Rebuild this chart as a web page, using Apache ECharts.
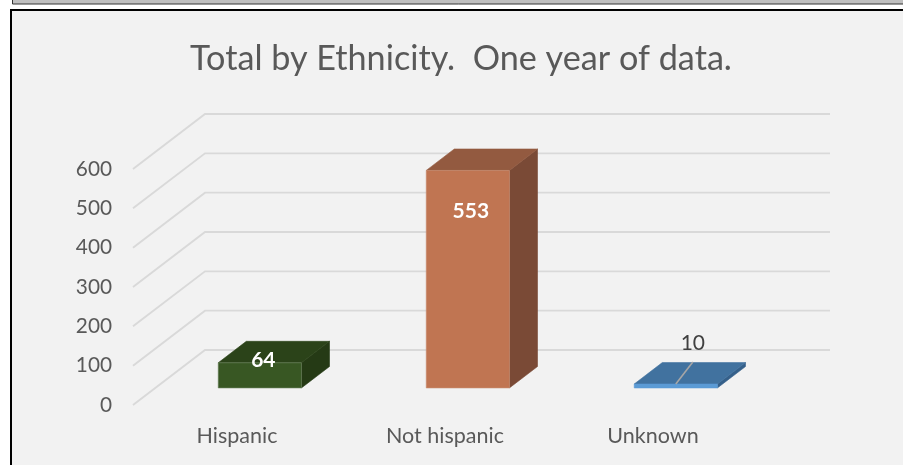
<!DOCTYPE html>
<html><head><meta charset="utf-8">
<style>html,body{margin:0;padding:0;background:#fff}#c{width:903px;height:465px}</style>
<script src="https://cdn.jsdelivr.net/npm/echarts@6/dist/echarts.min.js"></script></head>
<body><div id="c"></div>
<script>
const categories = ['Hispanic', 'Not hispanic', 'Unknown'];
const totals = [64, 553, 10];
const axisTicks = [0, 100, 200, 300, 400, 500, 600];
const titleText = 'Total by Ethnicity.  One year of data.';

const faces = [
  {front:'#385723', top:'#2b4319', side:'#253a15', edge:'#6d8560'},
  {front:'#c07552', top:'#935a40', side:'#7a4a36', edge:'#c98e72'},
  {front:'#5b9bd5', top:'#41729f', side:'#35608a', edge:'#5b9bd5'}
];
const labelStyle = [
  {dx:3.5, dy:-4, fill:'#fff', weight:'bold'},
  {dx:3, dy:40, fill:'#fff', weight:'bold'},
  {dx:17, dy:-42, fill:'#404040', weight:'normal'}
];
const FONT = 'Lato, "Open Sans", sans-serif';
const DEPTH = {x:72, y:-55};
const BAR_NEAR = 0.31, BAR_FAR = 0.70, BAR_RATIO = 0.40;
const GRID_LEFT = 133, GRID_WIDTH = 624;

function poly(points, fill, stroke){
  return {type:'polygon', shape:{points}, style:{fill, stroke:stroke||fill, lineWidth:0.6}};
}
function renderGridline(params, api){
  const v = api.value(0);
  const cs = params.coordSys;
  const y = api.coord([0, v])[1];
  const x0 = cs.x, xb = cs.x + DEPTH.x, yb = y + DEPTH.y;
  return {type:'polyline', shape:{points:[[x0,y],[xb,yb],[cs.x+cs.width+DEPTH.x+1,yb]]},
    style:{stroke:'#d9d9d9', lineWidth:1.9, fill:null}};
}
function renderBar(params, api){
  const i = params.dataIndex;
  const c = faces[i];
  const base = api.coord([i, 0]), top = api.coord([i, api.value(1)]);
  const w = api.size([1, 0])[0] * BAR_RATIO;
  const ox = DEPTH.x * BAR_NEAR, oy = DEPTH.y * BAR_NEAR;
  const dx = DEPTH.x * (BAR_FAR - BAR_NEAR), dy = DEPTH.y * (BAR_FAR - BAR_NEAR);
  const l = base[0] + ox - w / 2 + 0.5, r = l + w, b = base[1] + oy, t = top[1] + oy;
  const children = [
    poly([[r,b],[r+dx,b+dy],[r+dx,t+dy],[r,t]], c.side),
    poly([[l,t],[r,t],[r+dx,t+dy],[l+dx,t+dy]], c.top),
    poly([[l,b],[r,b],[r,t],[l,t]], c.front, c.edge)
  ];
  const s = labelStyle[i];
  const cx = (l + r) / 2 + s.dx, cy = t + s.dy;
  if (s.weight === 'normal') {
    children.push({type:'line', shape:{x1:cx, y1:cy+20, x2:cx-17, y2:cy+42},
      style:{stroke:'#a6a6a6', lineWidth:1.6}});
  }
  children.push({type:'text', style:{text:String(api.value(1)), x:cx, y:cy+1, align:'center', verticalAlign:'middle',
    fill:s.fill, fontFamily:FONT, fontSize:21, fontWeight:s.weight}});
  return {type:'group', children};
}

const chart = echarts.init(document.getElementById('c'), null, {renderer:'canvas'});
chart.setOption({
  animation:false,
  backgroundColor:'#fff',
  title:{text:titleText, left:456, top:37, textAlign:'center',
    textStyle:{color:'#595959', fontFamily:FONT, fontSize:34.2, fontWeight:'normal'}},
  grid:{left:GRID_LEFT, width:GRID_WIDTH, top:169, height:236, containLabel:false},
  graphic:[
    {type:'rect', z:-1, shape:{x:12.5,y:-3,width:900,height:7}, style:{fill:'#bfbfbf', stroke:'#333', lineWidth:1}},
    {type:'rect', z:-1, shape:{x:11,y:10,width:900,height:470}, style:{fill:'#f2f2f2', stroke:'#000', lineWidth:2}}
  ],
  xAxis:{type:'category', data:categories, axisLine:{show:false}, axisTick:{show:false}, splitLine:{show:false},
    axisLabel:{margin:20, color:'#595959', fontFamily:FONT, fontSize:21.5}},
  yAxis:{type:'value', min:0, max:600, interval:100, axisLine:{show:false}, axisTick:{show:false}, splitLine:{show:false},
    axisLabel:{margin:21, color:'#595959', fontFamily:FONT, fontSize:20.8}},
  series:[
    {type:'custom', name:'gridlines', silent:true, clip:false, z:2, coordinateSystem:'cartesian2d',
      data:axisTicks.map(v=>[v]), encode:{y:0}, renderItem:renderGridline},
    {type:'custom', name:'Total', silent:true, clip:false, z:3, coordinateSystem:'cartesian2d',
      data:totals.map((v,i)=>[i,v]), encode:{x:0,y:1}, renderItem:renderBar}
  ]
});
</script></body></html>
